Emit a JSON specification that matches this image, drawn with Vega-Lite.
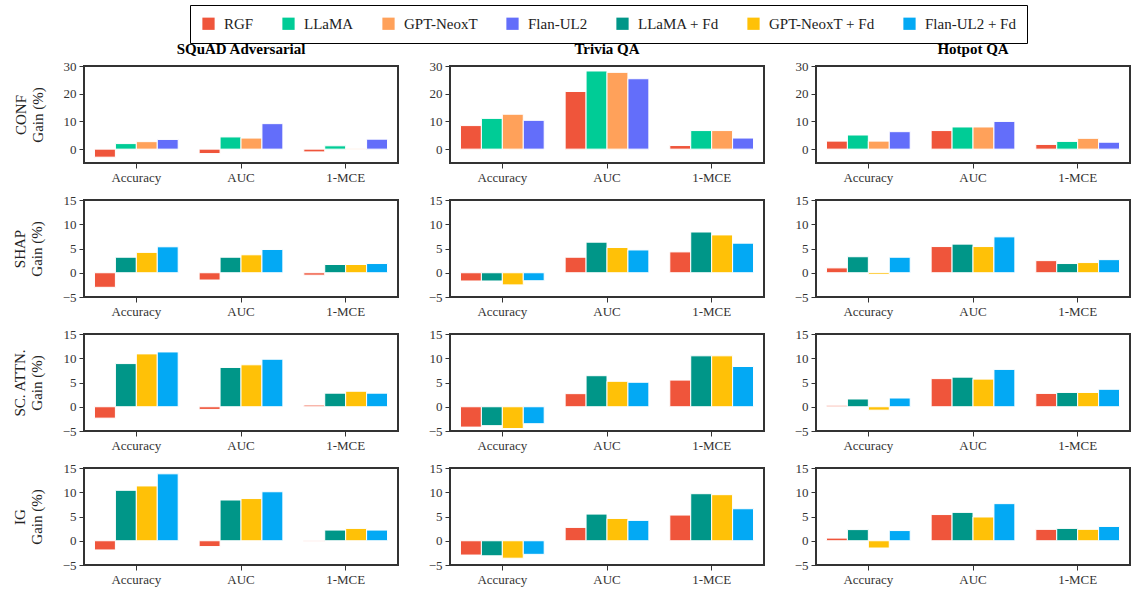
{
"$schema":"https://vega.github.io/schema/vega-lite/v6.json",
"padding":{"left":11,"top":4,"right":0,"bottom":3},
"spacing":8,
"resolve":{"scale":{"xOffset":"independent","color":"shared"}},
"data":{"values":[
{"m":"CONF","d":"SQuAD Adversarial","k":"Accuracy","s":"RGF","v":-2.9},
{"m":"CONF","d":"SQuAD Adversarial","k":"Accuracy","s":"LLaMA","v":2.0},
{"m":"CONF","d":"SQuAD Adversarial","k":"Accuracy","s":"GPT-NeoxT","v":2.7},
{"m":"CONF","d":"SQuAD Adversarial","k":"Accuracy","s":"Flan-UL2","v":3.5},
{"m":"CONF","d":"SQuAD Adversarial","k":"AUC","s":"RGF","v":-1.6},
{"m":"CONF","d":"SQuAD Adversarial","k":"AUC","s":"LLaMA","v":4.4},
{"m":"CONF","d":"SQuAD Adversarial","k":"AUC","s":"GPT-NeoxT","v":4.0},
{"m":"CONF","d":"SQuAD Adversarial","k":"AUC","s":"Flan-UL2","v":9.2},
{"m":"CONF","d":"SQuAD Adversarial","k":"1-MCE","s":"RGF","v":-1.0},
{"m":"CONF","d":"SQuAD Adversarial","k":"1-MCE","s":"LLaMA","v":1.2},
{"m":"CONF","d":"SQuAD Adversarial","k":"1-MCE","s":"GPT-NeoxT","v":0.1},
{"m":"CONF","d":"SQuAD Adversarial","k":"1-MCE","s":"Flan-UL2","v":3.6},
{"m":"CONF","d":"Trivia QA","k":"Accuracy","s":"RGF","v":8.5},
{"m":"CONF","d":"Trivia QA","k":"Accuracy","s":"LLaMA","v":11.1},
{"m":"CONF","d":"Trivia QA","k":"Accuracy","s":"GPT-NeoxT","v":12.6},
{"m":"CONF","d":"Trivia QA","k":"Accuracy","s":"Flan-UL2","v":10.4},
{"m":"CONF","d":"Trivia QA","k":"AUC","s":"RGF","v":20.8},
{"m":"CONF","d":"Trivia QA","k":"AUC","s":"LLaMA","v":28.2},
{"m":"CONF","d":"Trivia QA","k":"AUC","s":"GPT-NeoxT","v":27.7},
{"m":"CONF","d":"Trivia QA","k":"AUC","s":"Flan-UL2","v":25.4},
{"m":"CONF","d":"Trivia QA","k":"1-MCE","s":"RGF","v":1.3},
{"m":"CONF","d":"Trivia QA","k":"1-MCE","s":"LLaMA","v":6.7},
{"m":"CONF","d":"Trivia QA","k":"1-MCE","s":"GPT-NeoxT","v":6.7},
{"m":"CONF","d":"Trivia QA","k":"1-MCE","s":"Flan-UL2","v":4.0},
{"m":"CONF","d":"Hotpot QA","k":"Accuracy","s":"RGF","v":2.9},
{"m":"CONF","d":"Hotpot QA","k":"Accuracy","s":"LLaMA","v":5.1},
{"m":"CONF","d":"Hotpot QA","k":"Accuracy","s":"GPT-NeoxT","v":2.9},
{"m":"CONF","d":"Hotpot QA","k":"Accuracy","s":"Flan-UL2","v":6.3},
{"m":"CONF","d":"Hotpot QA","k":"AUC","s":"RGF","v":6.7},
{"m":"CONF","d":"Hotpot QA","k":"AUC","s":"LLaMA","v":8.0},
{"m":"CONF","d":"Hotpot QA","k":"AUC","s":"GPT-NeoxT","v":8.0},
{"m":"CONF","d":"Hotpot QA","k":"AUC","s":"Flan-UL2","v":10.0},
{"m":"CONF","d":"Hotpot QA","k":"1-MCE","s":"RGF","v":1.7},
{"m":"CONF","d":"Hotpot QA","k":"1-MCE","s":"LLaMA","v":2.8},
{"m":"CONF","d":"Hotpot QA","k":"1-MCE","s":"GPT-NeoxT","v":3.9},
{"m":"CONF","d":"Hotpot QA","k":"1-MCE","s":"Flan-UL2","v":2.5},
{"m":"SHAP","d":"SQuAD Adversarial","k":"Accuracy","s":"RGF","v":-3.0},
{"m":"SHAP","d":"SQuAD Adversarial","k":"Accuracy","s":"LLaMA + Fd","v":3.2},
{"m":"SHAP","d":"SQuAD Adversarial","k":"Accuracy","s":"GPT-NeoxT + Fd","v":4.2},
{"m":"SHAP","d":"SQuAD Adversarial","k":"Accuracy","s":"Flan-UL2 + Fd","v":5.35},
{"m":"SHAP","d":"SQuAD Adversarial","k":"AUC","s":"RGF","v":-1.5},
{"m":"SHAP","d":"SQuAD Adversarial","k":"AUC","s":"LLaMA + Fd","v":3.2},
{"m":"SHAP","d":"SQuAD Adversarial","k":"AUC","s":"GPT-NeoxT + Fd","v":3.7},
{"m":"SHAP","d":"SQuAD Adversarial","k":"AUC","s":"Flan-UL2 + Fd","v":4.8},
{"m":"SHAP","d":"SQuAD Adversarial","k":"1-MCE","s":"RGF","v":-0.5},
{"m":"SHAP","d":"SQuAD Adversarial","k":"1-MCE","s":"LLaMA + Fd","v":1.7},
{"m":"SHAP","d":"SQuAD Adversarial","k":"1-MCE","s":"GPT-NeoxT + Fd","v":1.7},
{"m":"SHAP","d":"SQuAD Adversarial","k":"1-MCE","s":"Flan-UL2 + Fd","v":1.9},
{"m":"SHAP","d":"Trivia QA","k":"Accuracy","s":"RGF","v":-1.7},
{"m":"SHAP","d":"Trivia QA","k":"Accuracy","s":"LLaMA + Fd","v":-1.7},
{"m":"SHAP","d":"Trivia QA","k":"Accuracy","s":"GPT-NeoxT + Fd","v":-2.5},
{"m":"SHAP","d":"Trivia QA","k":"Accuracy","s":"Flan-UL2 + Fd","v":-1.65},
{"m":"SHAP","d":"Trivia QA","k":"AUC","s":"RGF","v":3.2},
{"m":"SHAP","d":"Trivia QA","k":"AUC","s":"LLaMA + Fd","v":6.3},
{"m":"SHAP","d":"Trivia QA","k":"AUC","s":"GPT-NeoxT + Fd","v":5.2},
{"m":"SHAP","d":"Trivia QA","k":"AUC","s":"Flan-UL2 + Fd","v":4.7},
{"m":"SHAP","d":"Trivia QA","k":"1-MCE","s":"RGF","v":4.3},
{"m":"SHAP","d":"Trivia QA","k":"1-MCE","s":"LLaMA + Fd","v":8.4},
{"m":"SHAP","d":"Trivia QA","k":"1-MCE","s":"GPT-NeoxT + Fd","v":7.8},
{"m":"SHAP","d":"Trivia QA","k":"1-MCE","s":"Flan-UL2 + Fd","v":6.1},
{"m":"SHAP","d":"Hotpot QA","k":"Accuracy","s":"RGF","v":1.0},
{"m":"SHAP","d":"Hotpot QA","k":"Accuracy","s":"LLaMA + Fd","v":3.3},
{"m":"SHAP","d":"Hotpot QA","k":"Accuracy","s":"GPT-NeoxT + Fd","v":-0.35},
{"m":"SHAP","d":"Hotpot QA","k":"Accuracy","s":"Flan-UL2 + Fd","v":3.2},
{"m":"SHAP","d":"Hotpot QA","k":"AUC","s":"RGF","v":5.4},
{"m":"SHAP","d":"Hotpot QA","k":"AUC","s":"LLaMA + Fd","v":5.9},
{"m":"SHAP","d":"Hotpot QA","k":"AUC","s":"GPT-NeoxT + Fd","v":5.4},
{"m":"SHAP","d":"Hotpot QA","k":"AUC","s":"Flan-UL2 + Fd","v":7.4},
{"m":"SHAP","d":"Hotpot QA","k":"1-MCE","s":"RGF","v":2.5},
{"m":"SHAP","d":"Hotpot QA","k":"1-MCE","s":"LLaMA + Fd","v":1.9},
{"m":"SHAP","d":"Hotpot QA","k":"1-MCE","s":"GPT-NeoxT + Fd","v":2.1},
{"m":"SHAP","d":"Hotpot QA","k":"1-MCE","s":"Flan-UL2 + Fd","v":2.7},
{"m":"SC","d":"SQuAD Adversarial","k":"Accuracy","s":"RGF","v":-2.35},
{"m":"SC","d":"SQuAD Adversarial","k":"Accuracy","s":"LLaMA + Fd","v":8.9},
{"m":"SC","d":"SQuAD Adversarial","k":"Accuracy","s":"GPT-NeoxT + Fd","v":10.9},
{"m":"SC","d":"SQuAD Adversarial","k":"Accuracy","s":"Flan-UL2 + Fd","v":11.3},
{"m":"SC","d":"SQuAD Adversarial","k":"AUC","s":"RGF","v":-0.55},
{"m":"SC","d":"SQuAD Adversarial","k":"AUC","s":"LLaMA + Fd","v":8.1},
{"m":"SC","d":"SQuAD Adversarial","k":"AUC","s":"GPT-NeoxT + Fd","v":8.65},
{"m":"SC","d":"SQuAD Adversarial","k":"AUC","s":"Flan-UL2 + Fd","v":9.8},
{"m":"SC","d":"SQuAD Adversarial","k":"1-MCE","s":"RGF","v":0.35},
{"m":"SC","d":"SQuAD Adversarial","k":"1-MCE","s":"LLaMA + Fd","v":2.8},
{"m":"SC","d":"SQuAD Adversarial","k":"1-MCE","s":"GPT-NeoxT + Fd","v":3.2},
{"m":"SC","d":"SQuAD Adversarial","k":"1-MCE","s":"Flan-UL2 + Fd","v":2.8},
{"m":"SC","d":"Trivia QA","k":"Accuracy","s":"RGF","v":-4.2},
{"m":"SC","d":"Trivia QA","k":"Accuracy","s":"LLaMA + Fd","v":-3.9},
{"m":"SC","d":"Trivia QA","k":"Accuracy","s":"GPT-NeoxT + Fd","v":-4.5},
{"m":"SC","d":"Trivia QA","k":"Accuracy","s":"Flan-UL2 + Fd","v":-3.5},
{"m":"SC","d":"Trivia QA","k":"AUC","s":"RGF","v":2.7},
{"m":"SC","d":"Trivia QA","k":"AUC","s":"LLaMA + Fd","v":6.4},
{"m":"SC","d":"Trivia QA","k":"AUC","s":"GPT-NeoxT + Fd","v":5.25},
{"m":"SC","d":"Trivia QA","k":"AUC","s":"Flan-UL2 + Fd","v":5.05},
{"m":"SC","d":"Trivia QA","k":"1-MCE","s":"RGF","v":5.5},
{"m":"SC","d":"Trivia QA","k":"1-MCE","s":"LLaMA + Fd","v":10.5},
{"m":"SC","d":"Trivia QA","k":"1-MCE","s":"GPT-NeoxT + Fd","v":10.5},
{"m":"SC","d":"Trivia QA","k":"1-MCE","s":"Flan-UL2 + Fd","v":8.3},
{"m":"SC","d":"Hotpot QA","k":"Accuracy","s":"RGF","v":0.3},
{"m":"SC","d":"Hotpot QA","k":"Accuracy","s":"LLaMA + Fd","v":1.6},
{"m":"SC","d":"Hotpot QA","k":"Accuracy","s":"GPT-NeoxT + Fd","v":-0.7},
{"m":"SC","d":"Hotpot QA","k":"Accuracy","s":"Flan-UL2 + Fd","v":1.8},
{"m":"SC","d":"Hotpot QA","k":"AUC","s":"RGF","v":5.8},
{"m":"SC","d":"Hotpot QA","k":"AUC","s":"LLaMA + Fd","v":6.1},
{"m":"SC","d":"Hotpot QA","k":"AUC","s":"GPT-NeoxT + Fd","v":5.7},
{"m":"SC","d":"Hotpot QA","k":"AUC","s":"Flan-UL2 + Fd","v":7.7},
{"m":"SC","d":"Hotpot QA","k":"1-MCE","s":"RGF","v":2.75},
{"m":"SC","d":"Hotpot QA","k":"1-MCE","s":"LLaMA + Fd","v":2.95},
{"m":"SC","d":"Hotpot QA","k":"1-MCE","s":"GPT-NeoxT + Fd","v":2.95},
{"m":"SC","d":"Hotpot QA","k":"1-MCE","s":"Flan-UL2 + Fd","v":3.6},
{"m":"IG","d":"SQuAD Adversarial","k":"Accuracy","s":"RGF","v":-1.9},
{"m":"IG","d":"SQuAD Adversarial","k":"Accuracy","s":"LLaMA + Fd","v":10.4},
{"m":"IG","d":"SQuAD Adversarial","k":"Accuracy","s":"GPT-NeoxT + Fd","v":11.3},
{"m":"IG","d":"SQuAD Adversarial","k":"Accuracy","s":"Flan-UL2 + Fd","v":13.8},
{"m":"IG","d":"SQuAD Adversarial","k":"AUC","s":"RGF","v":-1.2},
{"m":"IG","d":"SQuAD Adversarial","k":"AUC","s":"LLaMA + Fd","v":8.4},
{"m":"IG","d":"SQuAD Adversarial","k":"AUC","s":"GPT-NeoxT + Fd","v":8.7},
{"m":"IG","d":"SQuAD Adversarial","k":"AUC","s":"Flan-UL2 + Fd","v":10.1},
{"m":"IG","d":"SQuAD Adversarial","k":"1-MCE","s":"RGF","v":-0.1},
{"m":"IG","d":"SQuAD Adversarial","k":"1-MCE","s":"LLaMA + Fd","v":2.2},
{"m":"IG","d":"SQuAD Adversarial","k":"1-MCE","s":"GPT-NeoxT + Fd","v":2.55},
{"m":"IG","d":"SQuAD Adversarial","k":"1-MCE","s":"Flan-UL2 + Fd","v":2.2},
{"m":"IG","d":"Trivia QA","k":"Accuracy","s":"RGF","v":-2.95},
{"m":"IG","d":"Trivia QA","k":"Accuracy","s":"LLaMA + Fd","v":-3.1},
{"m":"IG","d":"Trivia QA","k":"Accuracy","s":"GPT-NeoxT + Fd","v":-3.6},
{"m":"IG","d":"Trivia QA","k":"Accuracy","s":"Flan-UL2 + Fd","v":-2.8},
{"m":"IG","d":"Trivia QA","k":"AUC","s":"RGF","v":2.75},
{"m":"IG","d":"Trivia QA","k":"AUC","s":"LLaMA + Fd","v":5.5},
{"m":"IG","d":"Trivia QA","k":"AUC","s":"GPT-NeoxT + Fd","v":4.6},
{"m":"IG","d":"Trivia QA","k":"AUC","s":"Flan-UL2 + Fd","v":4.2},
{"m":"IG","d":"Trivia QA","k":"1-MCE","s":"RGF","v":5.3},
{"m":"IG","d":"Trivia QA","k":"1-MCE","s":"LLaMA + Fd","v":9.7},
{"m":"IG","d":"Trivia QA","k":"1-MCE","s":"GPT-NeoxT + Fd","v":9.5},
{"m":"IG","d":"Trivia QA","k":"1-MCE","s":"Flan-UL2 + Fd","v":6.6},
{"m":"IG","d":"Hotpot QA","k":"Accuracy","s":"RGF","v":0.55},
{"m":"IG","d":"Hotpot QA","k":"Accuracy","s":"LLaMA + Fd","v":2.3},
{"m":"IG","d":"Hotpot QA","k":"Accuracy","s":"GPT-NeoxT + Fd","v":-1.5},
{"m":"IG","d":"Hotpot QA","k":"Accuracy","s":"Flan-UL2 + Fd","v":2.1},
{"m":"IG","d":"Hotpot QA","k":"AUC","s":"RGF","v":5.4},
{"m":"IG","d":"Hotpot QA","k":"AUC","s":"LLaMA + Fd","v":5.85},
{"m":"IG","d":"Hotpot QA","k":"AUC","s":"GPT-NeoxT + Fd","v":4.9},
{"m":"IG","d":"Hotpot QA","k":"AUC","s":"Flan-UL2 + Fd","v":7.65},
{"m":"IG","d":"Hotpot QA","k":"1-MCE","s":"RGF","v":2.35},
{"m":"IG","d":"Hotpot QA","k":"1-MCE","s":"LLaMA + Fd","v":2.55},
{"m":"IG","d":"Hotpot QA","k":"1-MCE","s":"GPT-NeoxT + Fd","v":2.35},
{"m":"IG","d":"Hotpot QA","k":"1-MCE","s":"Flan-UL2 + Fd","v":2.95}
]},
"vconcat":[
{"hconcat":[
 {"width":314,"height":97,"title":"SQuAD Adversarial","transform":[{"filter":"datum.m==='CONF' && datum.d==='SQuAD Adversarial'"}],"mark":{"type":"bar","stroke":"white","strokeWidth":1},
  "encoding":{"x":{"field":"k","type":"nominal","sort":["Accuracy","AUC","1-MCE"],"scale":{"paddingInner":0.2,"paddingOuter":0.1},"axis":{"title":null,"labelAngle":0}},
   "xOffset":{"field":"s","type":"nominal","sort":["RGF","LLaMA","GPT-NeoxT","Flan-UL2","LLaMA + Fd","GPT-NeoxT + Fd","Flan-UL2 + Fd"]},
   "y":{"field":"v","type":"quantitative","scale":{"domain":[-5,30],"nice":false,"zero":false},"axis":{"values":[0,10,20,30],"title":["CONF","Gain (%)"]}},
   "color":{"field":"s","type":"nominal","title":null,"scale":{"domain":["RGF","LLaMA","GPT-NeoxT","Flan-UL2","LLaMA + Fd","GPT-NeoxT + Fd","Flan-UL2 + Fd"],"range":["#EF553B","#00CC96","#FFA15A","#636EFA","#009688","#FFC107","#03A9F4"]}}}},
 {"width":314,"height":97,"title":"Trivia QA","transform":[{"filter":"datum.m==='CONF' && datum.d==='Trivia QA'"}],"mark":{"type":"bar","stroke":"white","strokeWidth":1},
  "encoding":{"x":{"field":"k","type":"nominal","sort":["Accuracy","AUC","1-MCE"],"scale":{"paddingInner":0.2,"paddingOuter":0.1},"axis":{"title":null,"labelAngle":0}},
   "xOffset":{"field":"s","type":"nominal","sort":["RGF","LLaMA","GPT-NeoxT","Flan-UL2","LLaMA + Fd","GPT-NeoxT + Fd","Flan-UL2 + Fd"]},
   "y":{"field":"v","type":"quantitative","scale":{"domain":[-5,30],"nice":false,"zero":false},"axis":{"values":[0,10,20,30],"title":null}},
   "color":{"field":"s","type":"nominal","title":null,"scale":{"domain":["RGF","LLaMA","GPT-NeoxT","Flan-UL2","LLaMA + Fd","GPT-NeoxT + Fd","Flan-UL2 + Fd"],"range":["#EF553B","#00CC96","#FFA15A","#636EFA","#009688","#FFC107","#03A9F4"]}}}},
 {"width":314,"height":97,"title":"Hotpot QA","transform":[{"filter":"datum.m==='CONF' && datum.d==='Hotpot QA'"}],"mark":{"type":"bar","stroke":"white","strokeWidth":1},
  "encoding":{"x":{"field":"k","type":"nominal","sort":["Accuracy","AUC","1-MCE"],"scale":{"paddingInner":0.2,"paddingOuter":0.1},"axis":{"title":null,"labelAngle":0}},
   "xOffset":{"field":"s","type":"nominal","sort":["RGF","LLaMA","GPT-NeoxT","Flan-UL2","LLaMA + Fd","GPT-NeoxT + Fd","Flan-UL2 + Fd"]},
   "y":{"field":"v","type":"quantitative","scale":{"domain":[-5,30],"nice":false,"zero":false},"axis":{"values":[0,10,20,30],"title":null}},
   "color":{"field":"s","type":"nominal","title":null,"scale":{"domain":["RGF","LLaMA","GPT-NeoxT","Flan-UL2","LLaMA + Fd","GPT-NeoxT + Fd","Flan-UL2 + Fd"],"range":["#EF553B","#00CC96","#FFA15A","#636EFA","#009688","#FFC107","#03A9F4"]}}}}
 ],"spacing":52,"bounds":"flush","resolve":{"scale":{"xOffset":"independent","color":"shared"}}},
{"hconcat":[
 {"width":314,"height":97,"transform":[{"filter":"datum.m==='SHAP' && datum.d==='SQuAD Adversarial'"}],"mark":{"type":"bar","stroke":"white","strokeWidth":1},
  "encoding":{"x":{"field":"k","type":"nominal","sort":["Accuracy","AUC","1-MCE"],"scale":{"paddingInner":0.2,"paddingOuter":0.1},"axis":{"title":null,"labelAngle":0}},
   "xOffset":{"field":"s","type":"nominal","sort":["RGF","LLaMA","GPT-NeoxT","Flan-UL2","LLaMA + Fd","GPT-NeoxT + Fd","Flan-UL2 + Fd"]},
   "y":{"field":"v","type":"quantitative","scale":{"domain":[-5,15],"nice":false,"zero":false},"axis":{"values":[-5,0,5,10,15],"title":["SHAP","Gain (%)"]}},
   "color":{"field":"s","type":"nominal","title":null,"scale":{"domain":["RGF","LLaMA","GPT-NeoxT","Flan-UL2","LLaMA + Fd","GPT-NeoxT + Fd","Flan-UL2 + Fd"],"range":["#EF553B","#00CC96","#FFA15A","#636EFA","#009688","#FFC107","#03A9F4"]}}}},
 {"width":314,"height":97,"transform":[{"filter":"datum.m==='SHAP' && datum.d==='Trivia QA'"}],"mark":{"type":"bar","stroke":"white","strokeWidth":1},
  "encoding":{"x":{"field":"k","type":"nominal","sort":["Accuracy","AUC","1-MCE"],"scale":{"paddingInner":0.2,"paddingOuter":0.1},"axis":{"title":null,"labelAngle":0}},
   "xOffset":{"field":"s","type":"nominal","sort":["RGF","LLaMA","GPT-NeoxT","Flan-UL2","LLaMA + Fd","GPT-NeoxT + Fd","Flan-UL2 + Fd"]},
   "y":{"field":"v","type":"quantitative","scale":{"domain":[-5,15],"nice":false,"zero":false},"axis":{"values":[-5,0,5,10,15],"title":null}},
   "color":{"field":"s","type":"nominal","title":null,"scale":{"domain":["RGF","LLaMA","GPT-NeoxT","Flan-UL2","LLaMA + Fd","GPT-NeoxT + Fd","Flan-UL2 + Fd"],"range":["#EF553B","#00CC96","#FFA15A","#636EFA","#009688","#FFC107","#03A9F4"]}}}},
 {"width":314,"height":97,"transform":[{"filter":"datum.m==='SHAP' && datum.d==='Hotpot QA'"}],"mark":{"type":"bar","stroke":"white","strokeWidth":1},
  "encoding":{"x":{"field":"k","type":"nominal","sort":["Accuracy","AUC","1-MCE"],"scale":{"paddingInner":0.2,"paddingOuter":0.1},"axis":{"title":null,"labelAngle":0}},
   "xOffset":{"field":"s","type":"nominal","sort":["RGF","LLaMA","GPT-NeoxT","Flan-UL2","LLaMA + Fd","GPT-NeoxT + Fd","Flan-UL2 + Fd"]},
   "y":{"field":"v","type":"quantitative","scale":{"domain":[-5,15],"nice":false,"zero":false},"axis":{"values":[-5,0,5,10,15],"title":null}},
   "color":{"field":"s","type":"nominal","title":null,"scale":{"domain":["RGF","LLaMA","GPT-NeoxT","Flan-UL2","LLaMA + Fd","GPT-NeoxT + Fd","Flan-UL2 + Fd"],"range":["#EF553B","#00CC96","#FFA15A","#636EFA","#009688","#FFC107","#03A9F4"]}}}}
 ],"spacing":52,"bounds":"flush","resolve":{"scale":{"xOffset":"independent","color":"shared"}}},
{"hconcat":[
 {"width":314,"height":97,"transform":[{"filter":"datum.m==='SC' && datum.d==='SQuAD Adversarial'"}],"mark":{"type":"bar","stroke":"white","strokeWidth":1},
  "encoding":{"x":{"field":"k","type":"nominal","sort":["Accuracy","AUC","1-MCE"],"scale":{"paddingInner":0.2,"paddingOuter":0.1},"axis":{"title":null,"labelAngle":0}},
   "xOffset":{"field":"s","type":"nominal","sort":["RGF","LLaMA","GPT-NeoxT","Flan-UL2","LLaMA + Fd","GPT-NeoxT + Fd","Flan-UL2 + Fd"]},
   "y":{"field":"v","type":"quantitative","scale":{"domain":[-5,15],"nice":false,"zero":false},"axis":{"values":[-5,0,5,10,15],"title":["SC. ATTN.","Gain (%)"]}},
   "color":{"field":"s","type":"nominal","title":null,"scale":{"domain":["RGF","LLaMA","GPT-NeoxT","Flan-UL2","LLaMA + Fd","GPT-NeoxT + Fd","Flan-UL2 + Fd"],"range":["#EF553B","#00CC96","#FFA15A","#636EFA","#009688","#FFC107","#03A9F4"]}}}},
 {"width":314,"height":97,"transform":[{"filter":"datum.m==='SC' && datum.d==='Trivia QA'"}],"mark":{"type":"bar","stroke":"white","strokeWidth":1},
  "encoding":{"x":{"field":"k","type":"nominal","sort":["Accuracy","AUC","1-MCE"],"scale":{"paddingInner":0.2,"paddingOuter":0.1},"axis":{"title":null,"labelAngle":0}},
   "xOffset":{"field":"s","type":"nominal","sort":["RGF","LLaMA","GPT-NeoxT","Flan-UL2","LLaMA + Fd","GPT-NeoxT + Fd","Flan-UL2 + Fd"]},
   "y":{"field":"v","type":"quantitative","scale":{"domain":[-5,15],"nice":false,"zero":false},"axis":{"values":[-5,0,5,10,15],"title":null}},
   "color":{"field":"s","type":"nominal","title":null,"scale":{"domain":["RGF","LLaMA","GPT-NeoxT","Flan-UL2","LLaMA + Fd","GPT-NeoxT + Fd","Flan-UL2 + Fd"],"range":["#EF553B","#00CC96","#FFA15A","#636EFA","#009688","#FFC107","#03A9F4"]}}}},
 {"width":314,"height":97,"transform":[{"filter":"datum.m==='SC' && datum.d==='Hotpot QA'"}],"mark":{"type":"bar","stroke":"white","strokeWidth":1},
  "encoding":{"x":{"field":"k","type":"nominal","sort":["Accuracy","AUC","1-MCE"],"scale":{"paddingInner":0.2,"paddingOuter":0.1},"axis":{"title":null,"labelAngle":0}},
   "xOffset":{"field":"s","type":"nominal","sort":["RGF","LLaMA","GPT-NeoxT","Flan-UL2","LLaMA + Fd","GPT-NeoxT + Fd","Flan-UL2 + Fd"]},
   "y":{"field":"v","type":"quantitative","scale":{"domain":[-5,15],"nice":false,"zero":false},"axis":{"values":[-5,0,5,10,15],"title":null}},
   "color":{"field":"s","type":"nominal","title":null,"scale":{"domain":["RGF","LLaMA","GPT-NeoxT","Flan-UL2","LLaMA + Fd","GPT-NeoxT + Fd","Flan-UL2 + Fd"],"range":["#EF553B","#00CC96","#FFA15A","#636EFA","#009688","#FFC107","#03A9F4"]}}}}
 ],"spacing":52,"bounds":"flush","resolve":{"scale":{"xOffset":"independent","color":"shared"}}},
{"hconcat":[
 {"width":314,"height":97,"transform":[{"filter":"datum.m==='IG' && datum.d==='SQuAD Adversarial'"}],"mark":{"type":"bar","stroke":"white","strokeWidth":1},
  "encoding":{"x":{"field":"k","type":"nominal","sort":["Accuracy","AUC","1-MCE"],"scale":{"paddingInner":0.2,"paddingOuter":0.1},"axis":{"title":null,"labelAngle":0}},
   "xOffset":{"field":"s","type":"nominal","sort":["RGF","LLaMA","GPT-NeoxT","Flan-UL2","LLaMA + Fd","GPT-NeoxT + Fd","Flan-UL2 + Fd"]},
   "y":{"field":"v","type":"quantitative","scale":{"domain":[-5,15],"nice":false,"zero":false},"axis":{"values":[-5,0,5,10,15],"title":["IG","Gain (%)"]}},
   "color":{"field":"s","type":"nominal","title":null,"scale":{"domain":["RGF","LLaMA","GPT-NeoxT","Flan-UL2","LLaMA + Fd","GPT-NeoxT + Fd","Flan-UL2 + Fd"],"range":["#EF553B","#00CC96","#FFA15A","#636EFA","#009688","#FFC107","#03A9F4"]}}}},
 {"width":314,"height":97,"transform":[{"filter":"datum.m==='IG' && datum.d==='Trivia QA'"}],"mark":{"type":"bar","stroke":"white","strokeWidth":1},
  "encoding":{"x":{"field":"k","type":"nominal","sort":["Accuracy","AUC","1-MCE"],"scale":{"paddingInner":0.2,"paddingOuter":0.1},"axis":{"title":null,"labelAngle":0}},
   "xOffset":{"field":"s","type":"nominal","sort":["RGF","LLaMA","GPT-NeoxT","Flan-UL2","LLaMA + Fd","GPT-NeoxT + Fd","Flan-UL2 + Fd"]},
   "y":{"field":"v","type":"quantitative","scale":{"domain":[-5,15],"nice":false,"zero":false},"axis":{"values":[-5,0,5,10,15],"title":null}},
   "color":{"field":"s","type":"nominal","title":null,"scale":{"domain":["RGF","LLaMA","GPT-NeoxT","Flan-UL2","LLaMA + Fd","GPT-NeoxT + Fd","Flan-UL2 + Fd"],"range":["#EF553B","#00CC96","#FFA15A","#636EFA","#009688","#FFC107","#03A9F4"]}}}},
 {"width":314,"height":97,"transform":[{"filter":"datum.m==='IG' && datum.d==='Hotpot QA'"}],"mark":{"type":"bar","stroke":"white","strokeWidth":1},
  "encoding":{"x":{"field":"k","type":"nominal","sort":["Accuracy","AUC","1-MCE"],"scale":{"paddingInner":0.2,"paddingOuter":0.1},"axis":{"title":null,"labelAngle":0}},
   "xOffset":{"field":"s","type":"nominal","sort":["RGF","LLaMA","GPT-NeoxT","Flan-UL2","LLaMA + Fd","GPT-NeoxT + Fd","Flan-UL2 + Fd"]},
   "y":{"field":"v","type":"quantitative","scale":{"domain":[-5,15],"nice":false,"zero":false},"axis":{"values":[-5,0,5,10,15],"title":null}},
   "color":{"field":"s","type":"nominal","title":null,"scale":{"domain":["RGF","LLaMA","GPT-NeoxT","Flan-UL2","LLaMA + Fd","GPT-NeoxT + Fd","Flan-UL2 + Fd"],"range":["#EF553B","#00CC96","#FFA15A","#636EFA","#009688","#FFC107","#03A9F4"]}}}}
 ],"spacing":52,"bounds":"flush","resolve":{"scale":{"xOffset":"independent","color":"shared"}}}
],
"config":{
 "font":"Liberation Serif",
 "view":{"stroke":"#333","strokeWidth":2},
 "axis":{"grid":false,"domain":false,"labelFont":"Liberation Serif","labelFontSize":13,"labelColor":"#333","tickColor":"#333","tickSize":5,"labelPadding":3,"titleFont":"Liberation Serif","titleFontSize":15,"titleFontWeight":"normal","titleColor":"#222","titlePadding":18,"titleLineHeight":17},
 "title":{"font":"Liberation Serif","fontSize":15,"fontWeight":"bold","color":"#000","offset":3},
 "legend":{"orient":"none","legendX":106,"legendY":-61,"direction":"horizontal","columns":7,"strokeColor":"#000","strokeWidth":1,"fillColor":"white","padding":11,"columnPadding":27,"symbolType":"square","symbolSize":150,"symbolStrokeWidth":0,"labelFont":"Liberation Serif","labelFontSize":15,"labelColor":"#222","labelOffset":8,"labelLimit":300}
}
}
